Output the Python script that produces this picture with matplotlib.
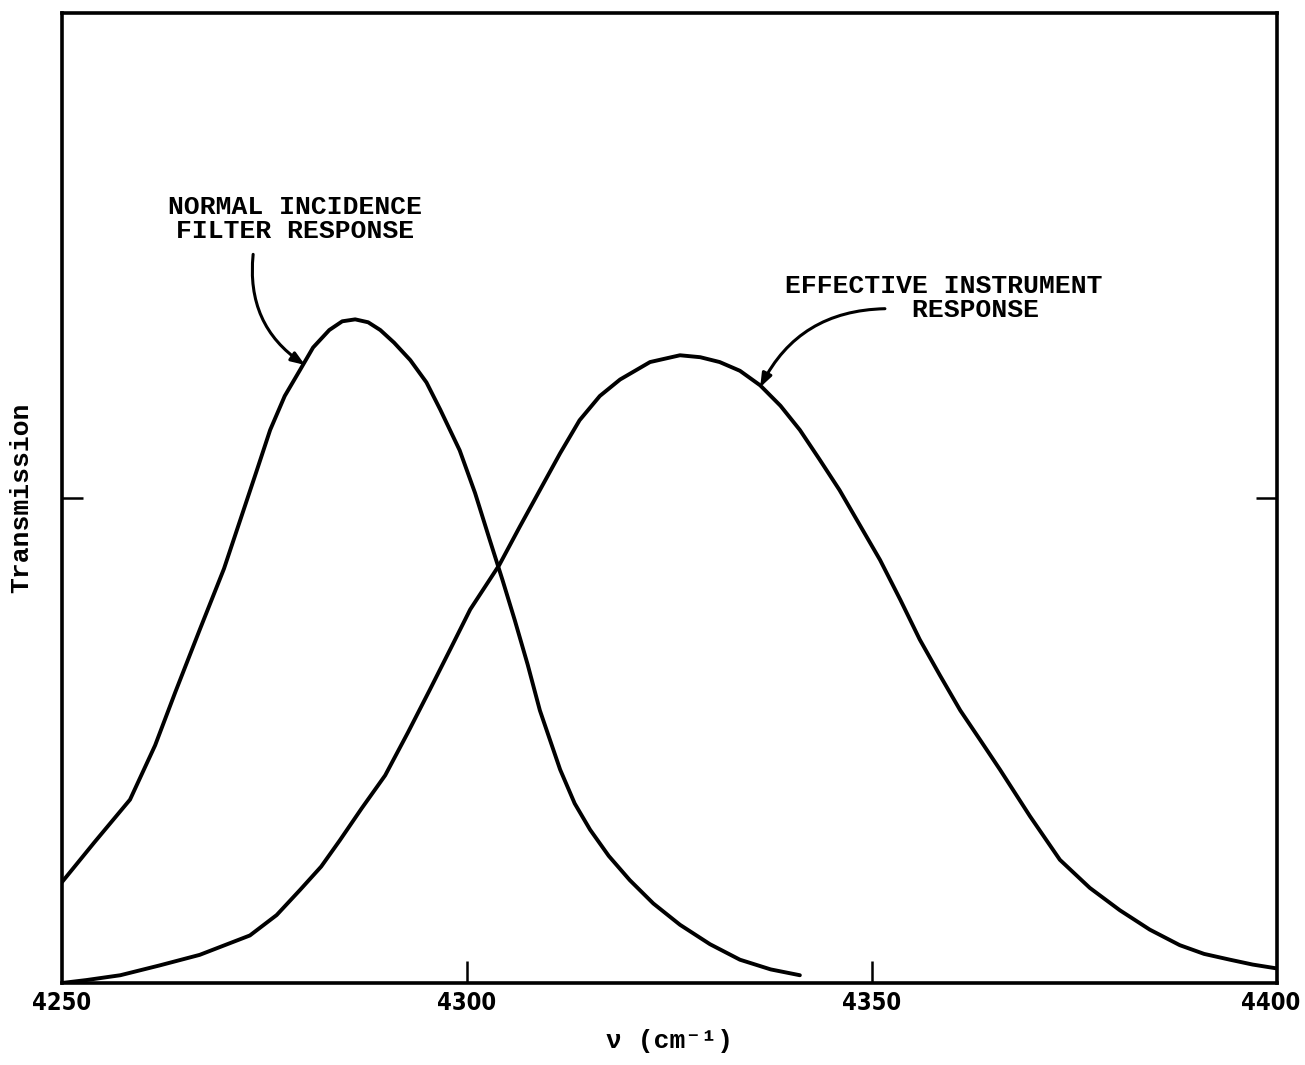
import matplotlib.pyplot as plt
import matplotlib.transforms as mtransforms
import numpy as np

# normal incidence filter response
nu_filter = [4250, 4254, 4258.4, 4261.5, 4264, 4267, 4270, 4272, 4274, 4275.7, 4277.5,
             4279.4, 4281, 4283, 4284.6, 4286.2, 4287.8, 4289.3, 4291, 4293, 4295,
             4296.7, 4299.1, 4301, 4302.8, 4304.4, 4305.9, 4307.5, 4309, 4311.5,
             4313.3, 4315.2, 4317.5, 4320.1, 4323, 4326.3, 4330, 4333.7, 4337.5, 4341.1]
t_filter = [0.104, 0.145, 0.189, 0.245, 0.300, 0.364, 0.427, 0.477, 0.527, 0.570, 0.605,
            0.632, 0.655, 0.673, 0.682, 0.684, 0.681, 0.673, 0.660, 0.642, 0.619,
            0.591, 0.549, 0.505, 0.457, 0.415, 0.374, 0.328, 0.281, 0.220,
            0.185, 0.158, 0.131, 0.106, 0.082, 0.060, 0.040, 0.024, 0.014, 0.008]

# effective instrument response
nu_instr = [4250, 4253, 4257.2, 4262, 4267, 4273.2, 4276.5, 4279.4, 4282, 4284.3, 4287,
            4289.9, 4292.7, 4295.4, 4298, 4300.4, 4304, 4306.5, 4309, 4311.5, 4313.9,
            4316.4, 4318.9, 4322.6, 4326.3, 4328.8, 4331.2, 4333.7, 4336.2, 4338.7,
            4341.1, 4343.5, 4346, 4348.5, 4351, 4353.5, 4355.9, 4358.4, 4360.9, 4363.4,
            4365.8, 4369.5, 4373.2, 4376.9, 4380.6, 4384.3, 4388, 4391, 4394.2, 4397, 4400]
t_instr = [0.000, 0.003, 0.008, 0.018, 0.029, 0.049, 0.070, 0.096, 0.120, 0.147, 0.180,
           0.214, 0.258, 0.302, 0.345, 0.385, 0.431, 0.470, 0.508, 0.546, 0.580,
           0.605, 0.622, 0.640, 0.647, 0.645, 0.640, 0.631, 0.616, 0.595,
           0.570, 0.540, 0.508, 0.472, 0.436, 0.395, 0.354, 0.317, 0.281, 0.250,
           0.220, 0.172, 0.127, 0.098, 0.075, 0.055, 0.039, 0.030, 0.024, 0.019, 0.015]

xticks = [4250, 4300, 4350, 4400]

mono = ['Liberation Mono', 'DejaVu Sans Mono']

fig = plt.figure(figsize=(13.05, 10.65), dpi=100)
ax = fig.add_axes([0.0475, 0.077, 0.931, 0.911])

ax.plot(nu_filter, t_filter, color='black', lw=2.8, solid_capstyle='round')
ax.plot(nu_instr, t_instr, color='black', lw=2.8, solid_capstyle='round')

ax.set_xlim(4250, 4400)
ax.set_ylim(0, 1)

for s in ax.spines.values():
    s.set_linewidth(2.6)

ax.set_xticks(xticks)
ax.set_xticklabels([str(v) for v in xticks], fontweight='bold', fontsize=17,
                   family='DejaVu Sans', fontstretch='condensed')
ax.set_yticks([0.5])
ax.set_yticklabels([])
ax.tick_params(axis='x', direction='in', length=16, width=1.8, pad=6)
ax.tick_params(axis='y', direction='in', length=15, width=1.8, left=True, right=True)
# no tick marks at the frame edges
ax.xaxis.get_major_ticks()[0].tick1line.set_visible(False)
ax.xaxis.get_major_ticks()[-1].tick1line.set_visible(False)
# last label sits against the right edge of the page
last = ax.get_xticklabels()[-1]
last.set_transform(last.get_transform() +
                   mtransforms.ScaledTranslation(-6 / 100, 0, fig.dpi_scale_trans))

ax.set_ylabel('Transmission', family=mono, fontweight='bold', fontsize=19, labelpad=17)
ax.set_xlabel('\u03bd (cm\u207b\u00b9)', family=mono, fontweight='bold', fontsize=19, labelpad=10)

ax.text(4278.8, 0.7875, 'NORMAL INCIDENCE\nFILTER RESPONSE', family=mono, fontweight='bold',
        fontsize=19, ha='center', va='center', linespacing=1.0)
ax.text(4339.3, 0.7065, 'EFFECTIVE INSTRUMENT\n        RESPONSE', family=mono, fontweight='bold',
        fontsize=19, ha='left', va='center', linespacing=1.0)

ax.annotate('', xy=(4280.0, 0.637), xytext=(4273.6, 0.751),
            arrowprops=dict(arrowstyle='-|>,head_length=0.8,head_width=0.3', color='black',
                            lw=2.2, connectionstyle='arc3,rad=0.3', shrinkA=0, shrinkB=0))
ax.annotate('', xy=(4336.2, 0.614), xytext=(4351.6, 0.695),
            arrowprops=dict(arrowstyle='-|>,head_length=0.8,head_width=0.3', color='black',
                            lw=2.2, connectionstyle='arc3,rad=0.3', shrinkA=0, shrinkB=0))

fig.savefig('out.png', dpi=100)
